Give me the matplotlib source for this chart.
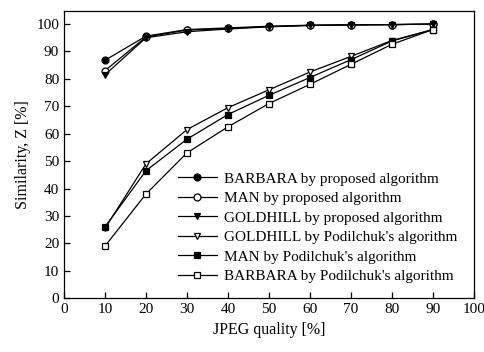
import numpy as np
import matplotlib
matplotlib.use("Agg")
import matplotlib.pyplot as plt

# JPEG quality levels [%]
quality = [10, 20, 30, 40, 50, 60, 70, 80, 90]

# Similarity Z [%]
barbara_proposed = [86.8, 95.6, 98.0, 98.6, 99.2, 99.6, 99.7, 99.8, 100.0]
man_proposed = [83.0, 95.3, 97.8, 98.4, 99.1, 99.5, 99.7, 99.8, 100.0]
goldhill_proposed = [81.5, 95.0, 97.2, 98.2, 99.0, 99.5, 99.7, 99.8, 100.0]
goldhill_podilchuk = [25.5, 49.0, 61.5, 69.5, 76.0, 82.5, 88.2, 94.0, 98.0]
man_podilchuk = [26.0, 46.5, 58.0, 67.0, 74.0, 80.5, 87.0, 93.8, 98.0]
barbara_podilchuk = [19.0, 38.0, 53.0, 62.5, 71.0, 78.0, 85.3, 92.6, 98.0]

labels = [
    "BARBARA by proposed algorithm",
    "MAN by proposed algorithm",
    "GOLDHILL by proposed algorithm",
    "GOLDHILL by Podilchuk's algorithm",
    "MAN by Podilchuk's algorithm",
    "BARBARA by Podilchuk's algorithm",
]

plt.rcParams['font.family'] = ['Liberation Serif', 'DejaVu Serif']

fig = plt.figure(figsize=(4.85, 3.52), dpi=100)
ax = fig.add_axes([0.132, 0.153, 0.845, 0.816])

series = [
    (barbara_proposed, 'o', 'black'),
    (man_proposed, 'o', 'white'),
    (goldhill_proposed, 'v', 'black'),
    (goldhill_podilchuk, 'v', 'white'),
    (man_podilchuk, 's', 'black'),
    (barbara_podilchuk, 's', 'white'),
]
for (vals, mk, fc), lab in zip(series, labels):
    ax.plot(quality, vals, color='black', linewidth=0.9, marker=mk,
            markersize=5, markerfacecolor=fc, markeredgecolor='black',
            markeredgewidth=0.9, label=lab)

ax.set_xlim(0, 100)
ax.set_ylim(0, 104.8)
ax.set_xticks(np.arange(0, 101, 10))
ax.set_yticks(np.arange(0, 101, 10))
ax.tick_params(direction='in', length=4, width=0.9, labelsize=11)
for s in ax.spines.values():
    s.set_linewidth(0.9)

ax.set_xlabel("JPEG quality [%]", fontsize=11.5)
ax.set_ylabel("Similarity, Z [%]", fontsize=11.5)

leg = ax.legend(loc='lower right', frameon=False, fontsize=11,
                handlelength=2.6, handletextpad=0.45, labelspacing=0.38,
                bbox_to_anchor=(0.99, 0.01), borderaxespad=0.4)

fig.savefig("out.png", dpi=100)
